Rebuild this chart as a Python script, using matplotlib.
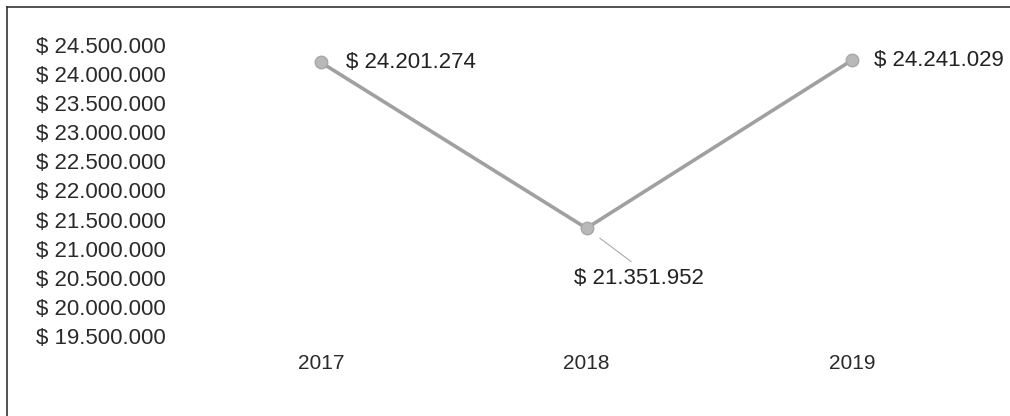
import matplotlib
matplotlib.use("Agg")
import matplotlib.pyplot as plt
from matplotlib.ticker import FuncFormatter, MultipleLocator
from matplotlib.lines import Line2D

years = ["2017", "2018", "2019"]
values = [24201274, 21351952, 24241029]
y_min, y_max, y_step = 19500000, 24500000, 500000

plt.rcParams['font.family'] = ['Liberation Sans', 'DejaVu Sans']

def money(v):
    return "$ " + f"{v:,.0f}".replace(",", ".")

fig = plt.figure(figsize=(10.10, 4.16), dpi=100)
ax = fig.add_axes([188/1010, (416-336)/416, (985-188)/1010, 291/416])

x = list(range(len(years)))
ax.plot(x, values, color="#a0a0a0", lw=2.6, marker="o", ms=9,
        markerfacecolor="#b8b8b8", markeredgecolor="#a8a8a8", zorder=3)

ax.set_xlim(-0.5, len(years) - 0.5)
ax.set_ylim(y_min, y_max)
ax.yaxis.set_major_locator(MultipleLocator(y_step))
ax.yaxis.set_major_formatter(FuncFormatter(lambda v, p: money(v)))
ax.set_xticks(x)
ax.set_xticklabels(years)
ax.tick_params(axis="y", length=0, pad=16, labelsize=16, labelcolor="#2a2a2a")
ax.tick_params(axis="x", length=0, pad=13, labelsize=15, labelcolor="#2a2a2a")
for s in ax.spines.values():
    s.set_visible(False)

offsets = [(18, 0), (38, -36), (16, 0)]
has = ["left", "center", "left"]
for i, (v, off, ha) in enumerate(zip(values, offsets, has)):
    if i == 1:
        ax.annotate(money(v), (i, v), xytext=off, textcoords="offset points",
                    ha=ha, va="center", fontsize=16, color="#222222",
                    arrowprops=dict(arrowstyle="-", color="#aaaaaa", lw=0.8,
                                    shrinkA=4, shrinkB=12, relpos=(0.5, 1)))
    else:
        ax.annotate(money(v), (i, v), xytext=off, textcoords="offset points",
                    ha=ha, va="center", fontsize=16, color="#222222")

fig.add_artist(Line2D([7/1010, 7/1010], [0, 1 - 7/416], transform=fig.transFigure,
                      color="#333333", lw=1.2))
fig.add_artist(Line2D([7/1010, 1], [1 - 7/416, 1 - 7/416], transform=fig.transFigure,
                      color="#333333", lw=1.2))

fig.savefig("out.png", dpi=100)
